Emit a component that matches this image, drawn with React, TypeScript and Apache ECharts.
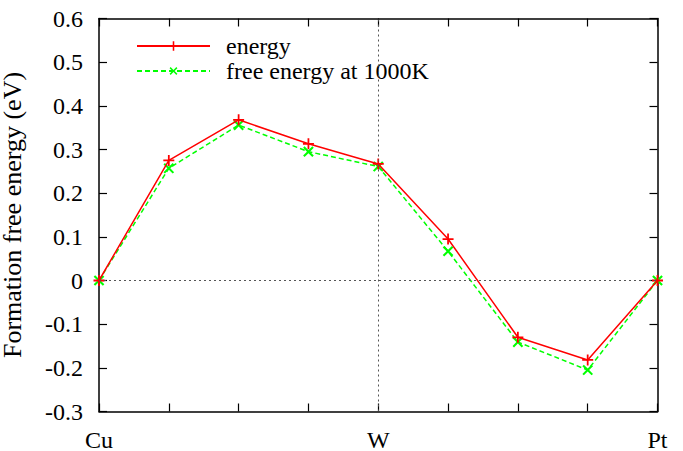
import React, { useEffect, useRef } from "react";
import * as echarts from "echarts";

const xLabels = ["Cu", "", "", "", "W", "", "", "", "Pt"];
const xKeys = ["0", "1", "2", "3", "4", "5", "6", "7", "8"];
const energy = [0, 0.275, 0.368, 0.313, 0.267, 0.095, -0.13, -0.182, 0];
const freeEnergy = [0, 0.257, 0.356, 0.295, 0.261, 0.067, -0.141, -0.205, 0];
const seriesNames = ["energy", "free energy at 1000K"];
const yName = "Formation free energy (eV)";

const FONT = "'Liberation Serif', 'Times New Roman', serif";
const PLUS = "path://M4.2,0H5.8V4.2H10V5.8H5.8V10H4.2V5.8H0V4.2H4.2Z";

export default function App() {
  const ref = useRef<HTMLDivElement>(null);
  useEffect(() => {
    if (!ref.current) return;
    const chart = echarts.init(ref.current, undefined, { renderer: "svg" });
    const axisLine = { show: true, onZero: false, lineStyle: { color: "#000", width: 1.5 } };
    const tick = { show: true, inside: true, length: 8, lineStyle: { color: "#000", width: 1.2 } };
    const labelFont = { fontFamily: FONT, fontSize: 24, color: "#000" };
    chart.setOption({
      animation: false,
      backgroundColor: "#fff",
      textStyle: { fontFamily: FONT, color: "#000" },
      grid: { left: 99, right: 25.5, top: 18.5, bottom: 39.5, outerBoundsMode: "none", containLabel: false },
      legend: {
        orient: "vertical",
        left: 131,
        top: 29,
        itemWidth: 73,
        itemHeight: 12,
        itemGap: 1,
        textStyle: { ...labelFont, padding: [0, 0, 0, 11] },
        data: seriesNames,
      },
      xAxis: [
        {
          type: "category",
          data: xKeys,
          boundaryGap: false,
          position: "bottom",
          axisLine,
          axisTick: { ...tick, interval: 0 },
          axisLabel: {
            ...labelFont,
            interval: 0,
            margin: 16,
            formatter: (_v: string, i: number) => xLabels[i],
          },
          splitLine: { show: false },
        },
        {
          type: "category",
          data: xKeys,
          boundaryGap: false,
          position: "top",
          axisLine,
          axisTick: { ...tick, interval: 0 },
          axisLabel: { show: false },
          splitLine: { show: false },
        },
      ],
      yAxis: [
        {
          type: "value",
          min: -0.3,
          max: 0.6,
          interval: 0.1,
          position: "left",
          name: yName,
          nameLocation: "middle",
          nameGap: 74,
          nameTextStyle: { fontFamily: FONT, fontSize: 26, color: "#000" },
          axisLine,
          axisTick: tick,
          axisLabel: {
            ...labelFont,
            margin: 16,
            formatter: (v: number) => {
              const r = Math.round(v * 10) / 10;
              return r === 0 ? "0" : r.toFixed(1);
            },
          },
          splitLine: { show: false },
        },
        {
          type: "value",
          min: -0.3,
          max: 0.6,
          interval: 0.1,
          position: "right",
          axisLine,
          axisTick: tick,
          axisLabel: { show: false },
          splitLine: { show: false },
        },
      ],
      series: [
        {
          name: seriesNames[0],
          type: "line",
          data: energy,
          symbol: PLUS,
          symbolSize: 11,
          showAllSymbol: true,
          lineStyle: { color: "#ff0000", width: 1.5 },
          itemStyle: { color: "#ff0000" },
          z: 3,
          markLine: {
            silent: true,
            symbol: ["none", "none"],
            label: { show: false },
            lineStyle: { type: [2, 3], color: "#555", width: 1 },
            data: [{ xAxis: "4" }, { yAxis: 0 }],
          },
        },
        {
          name: seriesNames[1],
          type: "line",
          data: freeEnergy,
          symbol: PLUS,
          symbolRotate: 45,
          symbolSize: 13,
          showAllSymbol: true,
          lineStyle: { color: "#00ff00", width: 1.5, type: [5, 3] },
          itemStyle: { color: "#00ff00" },
          z: 2,
        },
      ],
    });
    return () => chart.dispose();
  }, []);
  return (
    <div
      ref={ref}
      style={{ position: "fixed", left: 0, top: 0, width: 683, height: 451, background: "#fff" }}
    />
  );
}
